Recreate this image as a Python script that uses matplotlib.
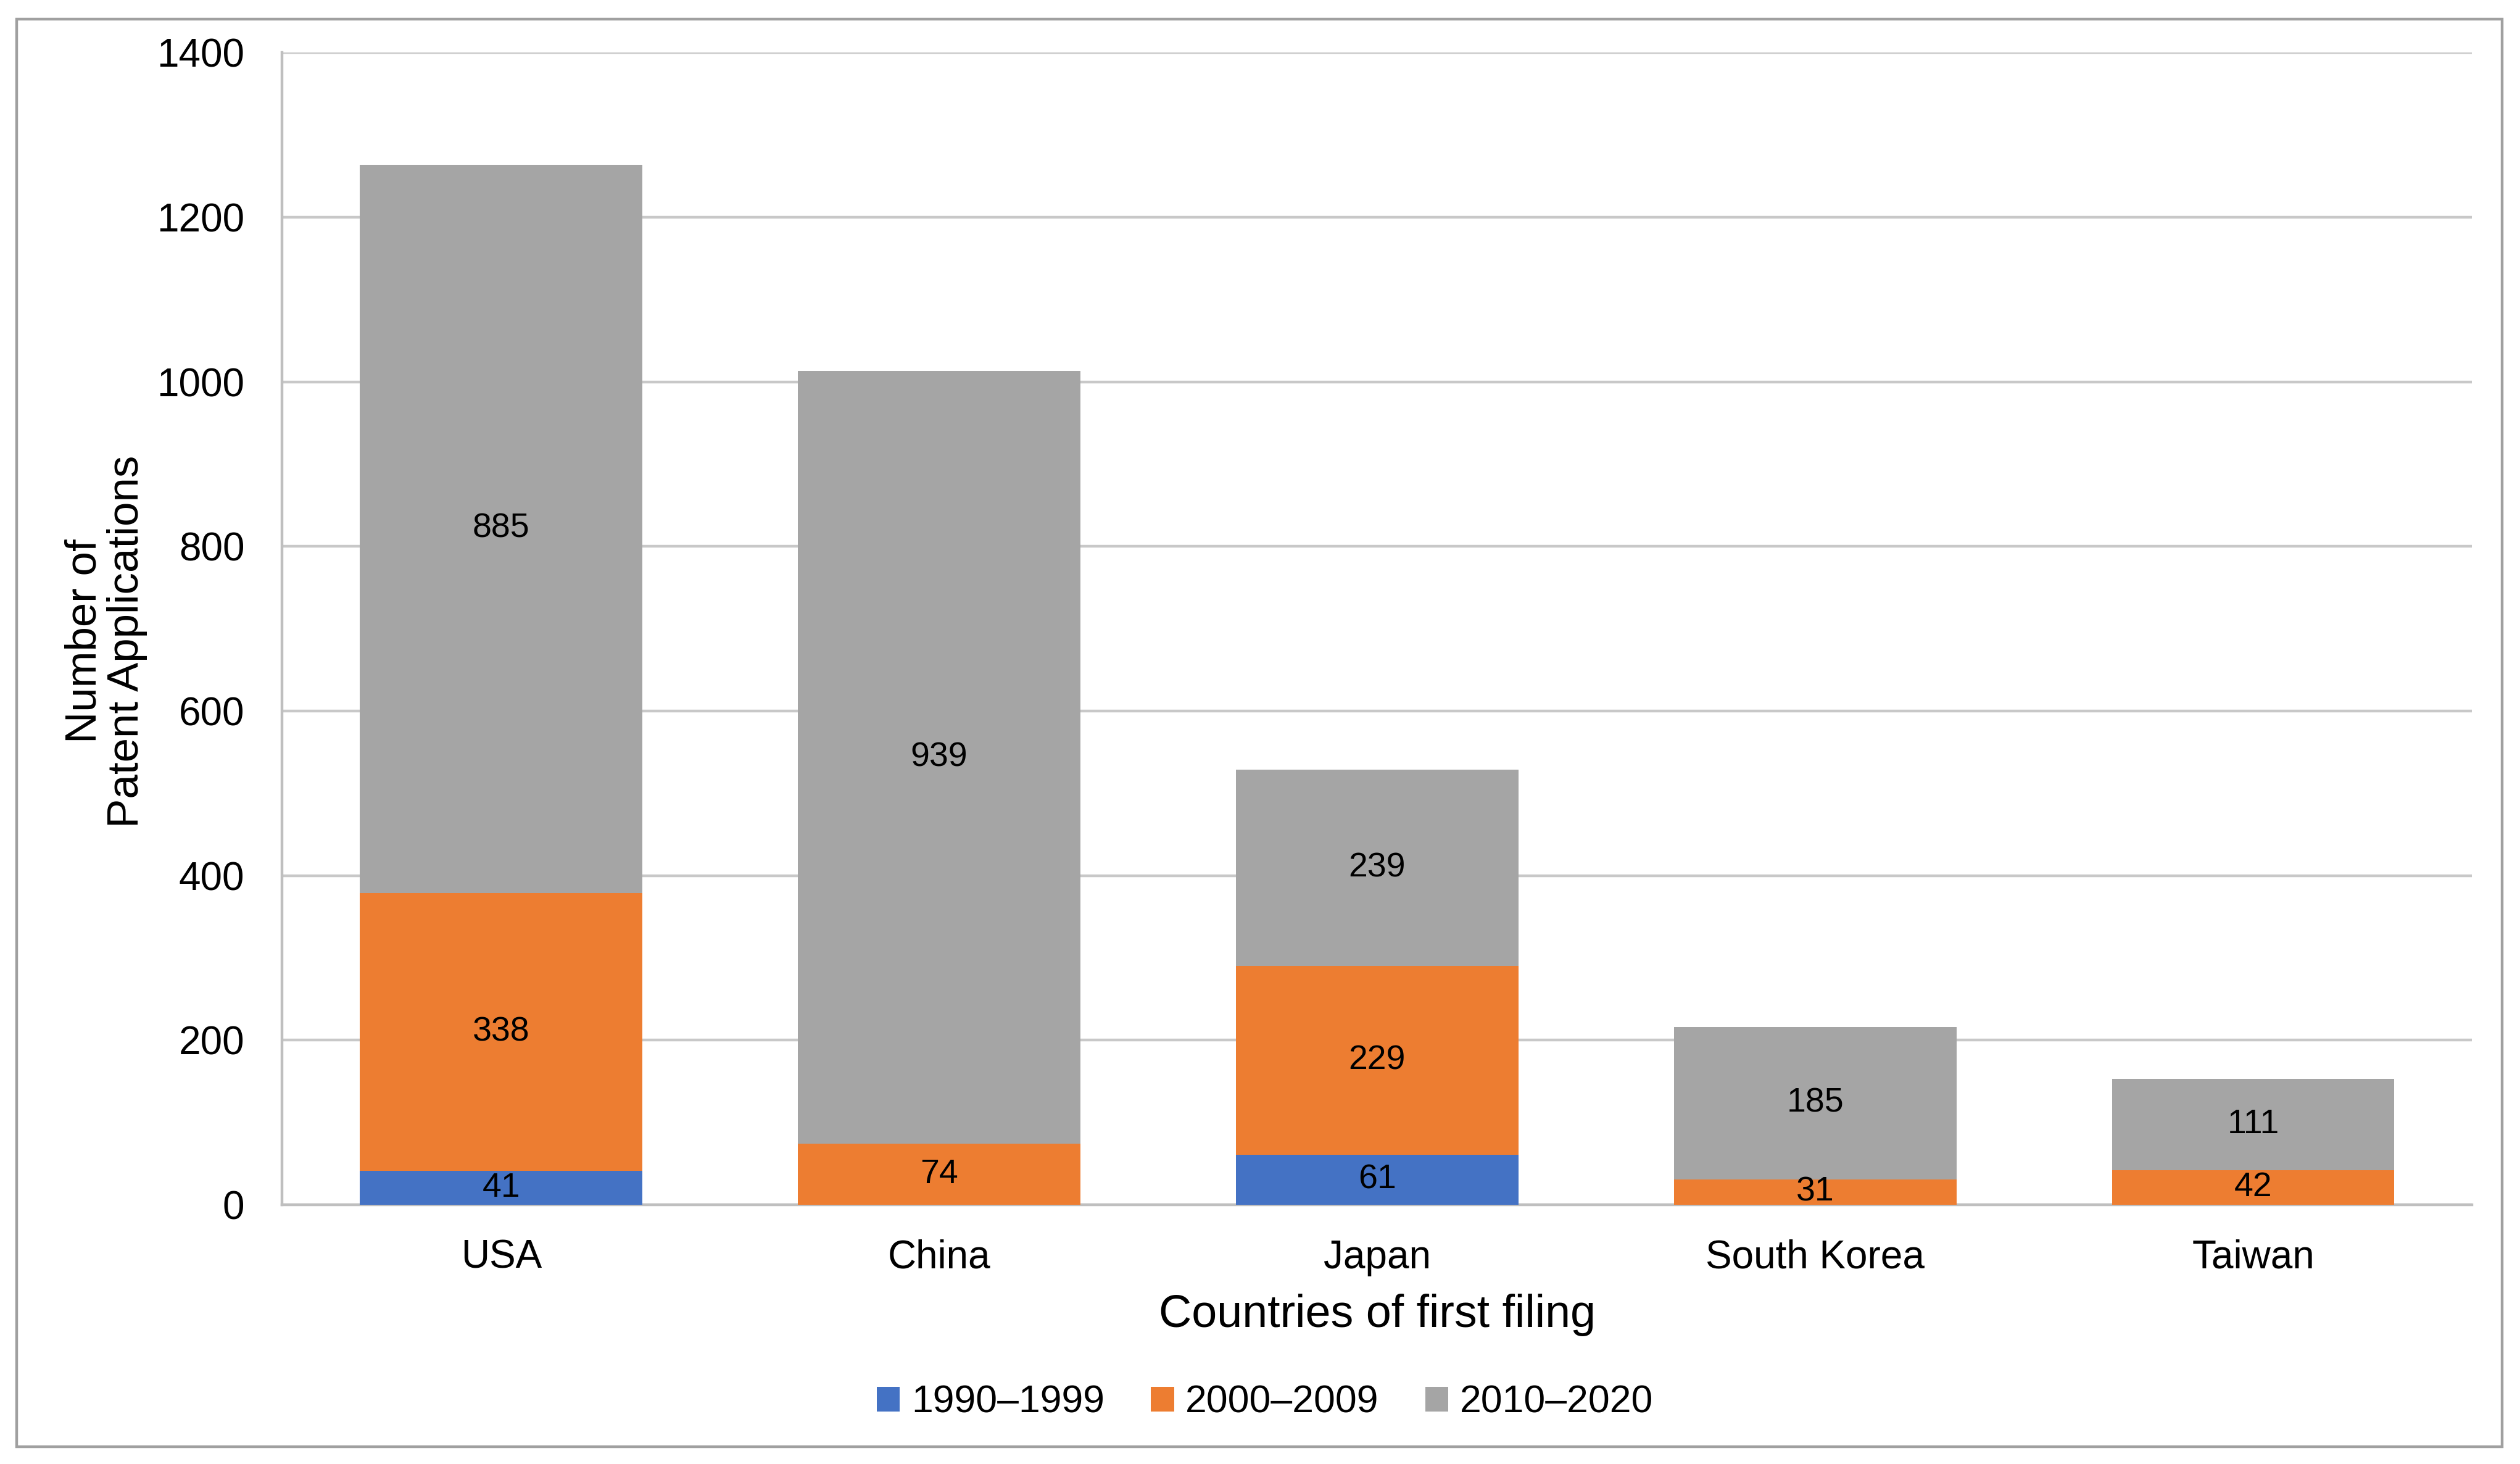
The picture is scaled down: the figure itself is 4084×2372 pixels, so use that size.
import matplotlib
matplotlib.use("Agg")
from matplotlib import pyplot as plt
from matplotlib.patches import Rectangle
import numpy as np

countries = ["USA", "China", "Japan", "South Korea", "Taiwan"]
periods = ["1990\u20131999", "2000\u20132009", "2010\u20132020"]
v_1990 = [41, 0, 61, 0, 0]
v_2000 = [338, 74, 229, 31, 42]
v_2010 = [885, 939, 239, 185, 111]
colors = ["#4472C4", "#ED7D31", "#A5A5A5"]

plt.rcParams["font.family"] = ["Liberation Sans", "DejaVu Sans"]

fig = plt.figure(figsize=(20.42, 11.86), dpi=200)
ax = fig.add_axes([0.112, 0.177, 0.869, 0.787])

x = np.arange(len(countries))
bottom = np.zeros(len(countries))
for vals, lab, col in zip([v_1990, v_2000, v_2010], periods, colors):
    vals = np.array(vals, dtype=float)
    ax.bar(x, vals, 0.645, bottom=bottom, color=col, label=lab, zorder=3)
    for xi, v, b in zip(x, vals, bottom):
        if v > 0:
            ax.text(xi, b + v / 2, f"{int(v)}", ha="center", va="center",
                    fontsize=20, color="black", zorder=4)
    bottom += vals

ax.set_xlim(-0.5, 4.5)
ax.set_ylim(0, 1400)
ax.set_yticks(range(0, 1401, 200))
ax.set_xticks(x)
ax.set_xticklabels(countries)
ax.tick_params(axis="both", labelsize=23, length=0, colors="#404040", labelcolor="black")
ax.tick_params(axis="x", pad=20)
ax.tick_params(axis="y", pad=22)
ax.grid(axis="y", color="#C8C8C8", linewidth=1.6, zorder=0)
for s in ["top", "right"]:
    ax.spines[s].set_visible(False)
ax.spines["left"].set_color("#BFBFBF")
ax.spines["bottom"].set_color("#BFBFBF")
ax.spines["left"].set_linewidth(1.6)
ax.spines["bottom"].set_linewidth(1.6)

fig.text(0.5465, 0.102, "Countries of first filing", ha="center", va="center", fontsize=26.5)
fig.text(0.042, 0.562, "Number of\nPatent Applications", ha="center", va="center",
         rotation=90, fontsize=25.5, linespacing=1.05)

handles, labels = ax.get_legend_handles_labels()
fig.legend(handles, labels, loc="center", bbox_to_anchor=(0.502, 0.042), ncol=3,
           frameon=False, fontsize=22.5, handlelength=0.6, handleheight=0.6,
           handletextpad=0.3, columnspacing=1.2)

fig.patches.append(Rectangle((0.0065, 0.012), 0.9865, 0.975, transform=fig.transFigure,
                             fill=False, edgecolor="#A0A0A0", linewidth=1.6))

fig.savefig("out.png", dpi=200, facecolor="white")
